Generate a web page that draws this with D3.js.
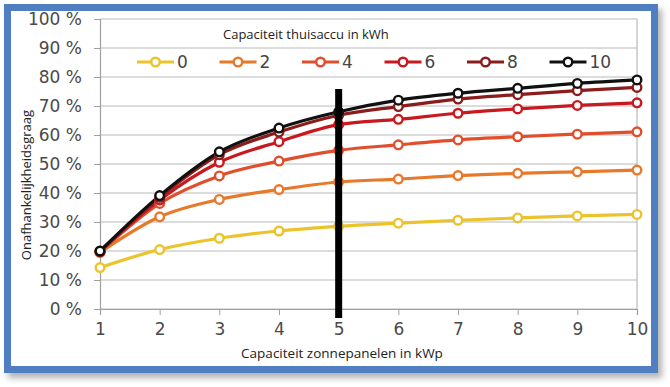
<!DOCTYPE html>
<html>
<head>
<meta charset="utf-8">
<script src="https://cdn.jsdelivr.net/npm/d3@7"></script>
<style>
  body {margin: 0; background: #fff;}
  svg {display: block;}
</style>
</head>
<body>
<script>
const xValues = [1, 2, 3, 4, 5, 6, 7, 8, 9, 10]
const batteries = ['0', '2', '4', '6', '8', '10']
const colors = ['#ecc32a', '#e8792a', '#e14e2c', '#c8191f', '#8a1c1c', '#111111']
const s0 = [14.3, 20.5, 24.4, 26.9, 28.5, 29.6, 30.6, 31.4, 32.1, 32.6]
const s2 = [19.5, 31.8, 37.8, 41.2, 43.8, 44.8, 46.0, 46.8, 47.3, 47.9]
const s4 = [19.6, 36.4, 45.9, 51.0, 54.7, 56.6, 58.3, 59.4, 60.3, 61.1]
const s6 = [19.8, 37.6, 50.6, 57.7, 63.6, 65.4, 67.5, 69.0, 70.2, 71.1]
const s8 = [19.9, 38.5, 53.2, 61.0, 66.8, 69.8, 72.4, 73.9, 75.3, 76.4]
const s10 = [20.0, 39.1, 54.2, 62.4, 68.0, 72.0, 74.4, 76.1, 77.8, 79.0]
const series = [s0, s2, s4, s6, s8, s10]
const yTicks = [0, 10, 20, 30, 40, 50, 60, 70, 80, 90, 100]
const marker = 5  // de zwarte lijn bij 5 kWp

const W = 670, H = 387
const svg = d3.select('body').append('svg').attr('width', W).attr('height', H)

// schaduw + blauwe rand
const defs = svg.append('defs')
const f = defs.append('filter').attr('id', 'shadow').attr('x', '-5%').attr('y', '-5%').attr('width', '115%').attr('height', '115%')
f.append('feDropShadow').attr('dx', 4).attr('dy', 5).attr('stdDeviation', 3).attr('flood-color', '#000').attr('flood-opacity', 0.3)

svg.append('rect')
  .attr('x', 7.5).attr('y', 7.5).attr('width', 647).attr('height', 362)
  .attr('fill', '#fff').attr('stroke', '#4f7fc0').attr('stroke-width', 7)
  .attr('filter', 'url(#shadow)')

const pLeft = 100, pRight = 637, pTop = 19, pBottom = 309
const x = d3.scaleLinear().domain([1, 10]).range([pLeft, pRight])
const y = d3.scaleLinear().domain([0, 100]).range([pBottom, pTop])

const g = svg.append('g')

// rasterlijnen
g.append('g').selectAll('line').data(yTicks).enter().append('line')
  .attr('x1', pLeft).attr('x2', pRight)
  .attr('y1', d => y(d)).attr('y2', d => y(d))
  .attr('stroke', '#b9b9b9').attr('stroke-width', 1.2)
g.append('line').attr('x1', pRight).attr('x2', pRight).attr('y1', pTop).attr('y2', pBottom)
  .attr('stroke', '#b9b9b9').attr('stroke-width', 1.2)

// y-as
const yAxis = g.append('g').attr('transform', `translate(${pLeft},0)`)
  .call(d3.axisLeft(y).tickValues(yTicks).tickSize(6).tickPadding(12).tickFormat(d => d + ' %'))
yAxis.select('.domain').attr('stroke', '#a0a0a0').attr('stroke-width', 1.2)
yAxis.selectAll('.tick line').attr('stroke', '#a0a0a0')
yAxis.selectAll('text').attr('font-family', 'DejaVu Sans, Verdana, sans-serif')
  .attr('font-size', 17).attr('fill', '#4a4a4a')

// x-as
const xAxis = g.append('g').attr('transform', `translate(0,${pBottom})`)
  .call(d3.axisBottom(x).tickValues(xValues).tickSize(6).tickPadding(8).tickFormat(d3.format('d')))
xAxis.select('.domain').attr('stroke', '#a0a0a0').attr('stroke-width', 1.2)
xAxis.selectAll('.tick line').attr('stroke', '#a0a0a0')
xAxis.selectAll('text').attr('font-family', 'DejaVu Sans, Verdana, sans-serif')
  .attr('font-size', 17).attr('fill', '#4a4a4a')

// lijnen
const line = d3.line().x((d, i) => x(xValues[i])).y(d => y(d)).curve(d3.curveMonotoneX)
series.forEach((s, k) => {
  g.append('path').datum(s).attr('d', line)
    .attr('fill', 'none').attr('stroke', colors[k]).attr('stroke-width', 3.2)
})
series.forEach((s, k) => {
  g.append('g').selectAll('circle').data(s).enter().append('circle')
    .attr('cx', (d, i) => x(xValues[i])).attr('cy', d => y(d)).attr('r', 4.3)
    .attr('fill', '#fff').attr('stroke', colors[k]).attr('stroke-width', 2.4)
})

// zwarte verticale lijn
g.append('line')
  .attr('x1', x(marker)).attr('x2', x(marker))
  .attr('y1', 89).attr('y2', pBottom + 9)
  .attr('stroke', '#000').attr('stroke-width', 7)

// titels
svg.append('text').attr('x', 342).attr('y', 358).attr('text-anchor', 'middle')
  .attr('font-family', 'Open Sans, Liberation Sans, sans-serif').attr('font-size', 13.5).attr('fill', '#222')
  .text('Capaciteit zonnepanelen in kWp')
svg.append('text').attr('transform', 'translate(31,185) rotate(-90)').attr('text-anchor', 'middle')
  .attr('font-family', 'Open Sans, Liberation Sans, sans-serif').attr('font-size', 13).attr('fill', '#222')
  .text('Onafhankelijkheidsgraag')

// legenda
svg.append('text').attr('x', 223).attr('y', 39)
  .attr('font-family', 'Open Sans, Liberation Sans, sans-serif').attr('font-size', 13).attr('fill', '#222')
  .text('Capaciteit thuisaccu in kWh')
const legend = svg.append('g').selectAll('g').data(batteries).enter().append('g')
  .attr('transform', (d, i) => `translate(${137 + i * 82.5},62)`)
legend.append('line').attr('x1', 0).attr('x2', 37).attr('y1', 0).attr('y2', 0)
  .attr('stroke', (d, i) => colors[i]).attr('stroke-width', 3.2)
legend.append('circle').attr('cx', 18.5).attr('cy', 0).attr('r', 4.3)
  .attr('fill', '#fff').attr('stroke', (d, i) => colors[i]).attr('stroke-width', 2.4)
legend.append('text').attr('x', 40).attr('y', 6)
  .attr('font-family', 'DejaVu Sans, Verdana, sans-serif').attr('font-size', 17).attr('fill', '#444')
  .text(d => d)
</script>
</body>
</html>
